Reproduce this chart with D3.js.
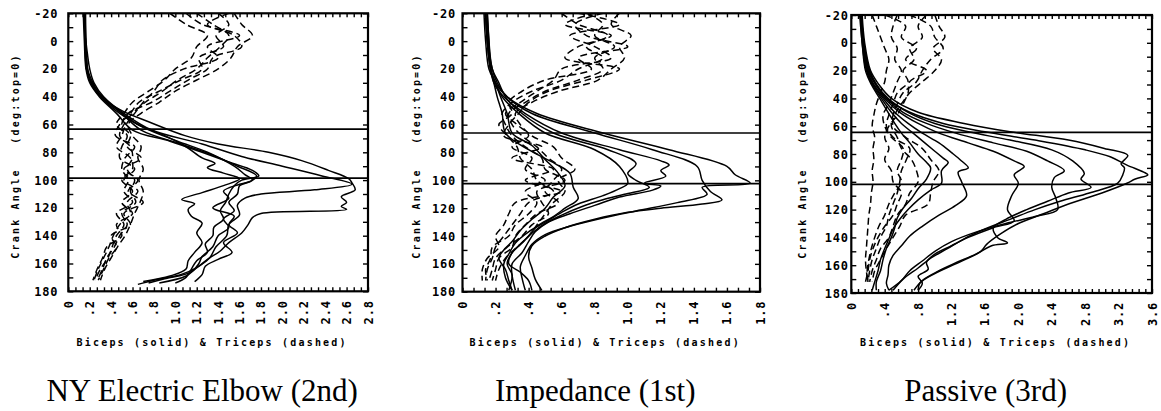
<!DOCTYPE html>
<html>
<head>
<meta charset="utf-8">
<script src="https://cdn.jsdelivr.net/npm/d3@7"></script>
<style>
  body { margin: 0; background: #fff; }
  .tick-label { font-family: "DejaVu Sans Mono", monospace; font-weight: bold; font-size: 12px; letter-spacing: 0.8px; }
  .axis-label { font-family: "DejaVu Sans Mono", monospace; font-weight: bold; font-size: 10px; letter-spacing: 2.2px; white-space: pre; }
  .panel-title { font-family: "Liberation Serif", "Times New Roman", serif; font-size: 31px; }
</style>
</head>
<body>
<svg id="chart" width="1161" height="411"></svg>
<script>
// ---- data: [EMG value, crank angle] ----
const titles = ["NY Electric Elbow (2nd)", "Impedance (1st)", "Passive (3rd)"];
const xTitle = "Biceps (solid) & Triceps (dashed)";
const yTitle = "Crank Angle   (deg:top=0)";

const angleLabels = ["-20", "0", "20", "40", "60", "80", "100", "120", "140", "160", "180"];
const elbowXLabels = ["0", ".2", ".4", ".6", ".8", "1.0", "1.2", "1.4", "1.6", "1.8", "2.0", "2.2", "2.4", "2.6", "2.8"];
const impedanceXLabels = ["0", ".2", ".4", ".6", ".8", "1.0", "1.2", "1.4", "1.6", "1.8"];
const passiveXLabels = ["0", ".4", ".8", "1.2", "1.6", "2.0", "2.4", "2.8", "3.2", "3.6"];

const elbowLines = [63.3, 98.6];
const impedanceLines = [66, 102.3];
const passiveLines = [64.4, 101.8];

// triceps traces are sampled at these angles
const tricepsAngles = [-20, -12, -4, 4, 12, 20, 28, 36, 44, 52, 60, 68, 76, 84, 92, 100, 108, 116, 124, 132, 140, 148, 156, 164, 172];

const elbowBiceps = [
  [[0.15,-20],[0.155,-10],[0.16,0],[0.17,10],[0.18,20],[0.21,30],[0.3,40],[0.5,50],[0.75,58],[1.09,68],[1.4,74],[1.87,80],[2.18,86],[2.43,93],[2.62,99],[2.65,102],[2.68,107],[2.55,112],[2.6,116],[2.55,119],[2.6,121],[1.8,124],[1.72,127],[1.68,132],[1.62,138],[1.5,145],[1.42,151],[1.3,157],[1.2,163],[1.05,168],[0.8,172],[0.65,175]],
  [[0.16,-20],[0.16,-10],[0.165,0],[0.18,10],[0.2,20],[0.24,30],[0.33,40],[0.52,52],[0.78,64],[1.25,74],[1.62,83],[2.0,90],[2.37,97],[2.65,103],[2.3,107],[1.8,110],[1.65,113],[1.58,118],[1.6,125],[1.5,132],[1.48,140],[1.38,148],[1.32,156],[1.2,163],[1.1,169],[0.85,174]],
  [[0.14,-20],[0.15,0],[0.165,20],[0.2,30],[0.29,40],[0.45,52],[0.6,64],[0.95,72],[1.25,80],[1.5,87],[1.72,93],[1.78,97],[1.62,100],[1.55,104],[1.5,110],[1.47,116],[1.42,122],[1.45,128],[1.36,134],[1.35,140],[1.28,146],[1.3,152],[1.2,158],[1.15,164],[1.1,170],[1.0,174]],
  [[0.15,-20],[0.16,0],[0.17,20],[0.22,30],[0.32,40],[0.5,52],[0.68,64],[1.05,74],[1.35,82],[1.58,90],[1.76,97],[1.7,101],[1.6,104],[1.58,110],[1.5,116],[1.55,122],[1.45,128],[1.5,134],[1.4,140],[1.35,148],[1.25,155],[1.22,160],[1.15,166],[0.9,171],[0.75,174]],
  [[0.16,-20],[0.165,0],[0.18,20],[0.23,30],[0.31,40],[0.5,52],[0.65,60],[0.9,68],[1.1,76],[1.25,84],[1.37,88],[1.3,91],[1.45,95],[1.6,99],[1.45,104],[1.25,109],[1.06,114],[1.18,117],[1.12,121],[1.15,126],[1.25,131],[1.2,138],[1.25,145],[1.18,152],[1.12,158],[1.1,164],[0.95,169],[0.7,173]],
  [[0.15,-20],[0.16,0],[0.17,20],[0.21,30],[0.3,40],[0.48,52],[0.7,62],[1.02,72],[1.3,80],[1.55,90],[1.65,96],[1.72,100],[1.6,103],[1.45,108],[1.5,113],[1.35,120],[1.55,126],[1.5,132],[1.58,138],[1.45,145],[1.53,152],[1.4,157],[1.28,162],[1.25,168],[1.18,173]]
];
const elbowTriceps = [
  [1.55,1.62,1.72,1.58,1.52,1.4,1.2,1.0,0.85,0.68,0.56,0.6,0.68,0.65,0.7,0.66,0.7,0.67,0.62,0.58,0.53,0.46,0.4,0.34,0.3],
  [1.2,1.35,1.5,1.42,1.3,1.2,1.02,0.88,0.72,0.6,0.52,0.48,0.58,0.6,0.55,0.62,0.58,0.63,0.5,0.55,0.48,0.43,0.36,0.32,0.27],
  [0.95,1.1,1.3,1.2,1.15,1.0,0.9,0.75,0.6,0.52,0.45,0.55,0.5,0.48,0.62,0.52,0.65,0.55,0.58,0.48,0.42,0.38,0.33,0.28,0.24],
  [1.4,1.5,1.38,1.45,1.22,1.25,1.05,0.85,0.66,0.58,0.48,0.44,0.62,0.53,0.5,0.56,0.52,0.6,0.45,0.52,0.45,0.41,0.37,0.3,0.25],
  [1.1,1.25,1.6,1.3,1.4,1.08,0.88,0.8,0.7,0.62,0.54,0.5,0.45,0.58,0.6,0.5,0.6,0.5,0.6,0.45,0.5,0.36,0.32,0.27,0.23],
  [1.5,1.3,1.55,1.62,1.35,1.3,1.12,0.95,0.78,0.56,0.5,0.58,0.55,0.68,0.52,0.65,0.56,0.7,0.52,0.58,0.4,0.45,0.38,0.33,0.28]
];

const impedanceBiceps = [
  [[0.14,-20],[0.15,0],[0.17,20],[0.2,30],[0.27,40],[0.45,52],[0.85,66],[1.25,78],[1.6,90],[1.65,96],[1.74,102],[1.45,105],[1.48,110],[1.3,116],[1.05,122],[0.85,127],[0.65,133],[0.5,139],[0.42,146],[0.38,154],[0.35,162],[0.36,170],[0.38,179]],
  [[0.15,-20],[0.155,0],[0.18,20],[0.21,30],[0.27,40],[0.42,52],[0.8,66],[1.15,78],[1.42,90],[1.45,100],[1.5,108],[1.57,114],[1.45,117],[1.2,120],[1.0,123],[0.8,128],[0.62,134],[0.5,140],[0.42,147],[0.4,155],[0.42,163],[0.44,171],[0.48,179]],
  [[0.14,-20],[0.15,0],[0.17,20],[0.19,30],[0.25,40],[0.38,52],[0.6,66],[0.95,78],[1.2,86],[1.25,89],[1.2,93],[1.23,97],[1.1,102],[1.2,104],[1.15,107],[0.95,112],[0.8,118],[0.65,124],[0.52,130],[0.44,137],[0.4,144],[0.36,152],[0.3,160],[0.3,168],[0.32,179]],
  [[0.15,-20],[0.16,0],[0.18,20],[0.22,30],[0.26,40],[0.36,52],[0.55,66],[0.88,78],[1.05,88],[1.0,95],[1.05,100],[1.13,105],[0.98,110],[0.85,114],[0.72,119],[0.6,125],[0.5,131],[0.42,138],[0.36,145],[0.3,152],[0.27,160],[0.3,168],[0.28,179]],
  [[0.13,-20],[0.14,0],[0.16,20],[0.2,30],[0.24,40],[0.34,52],[0.5,66],[0.8,78],[0.95,90],[1.0,102],[0.95,106],[0.85,111],[0.7,117],[0.6,123],[0.5,130],[0.4,137],[0.32,145],[0.28,153],[0.25,160],[0.26,170],[0.3,179]],
  [[0.15,-20],[0.16,0],[0.17,20],[0.19,30],[0.21,40],[0.24,52],[0.26,66],[0.4,78],[0.56,88],[0.65,95],[0.67,105],[0.7,113],[0.62,120],[0.55,126],[0.45,133],[0.4,140],[0.35,146],[0.3,152],[0.28,160],[0.35,166],[0.4,172],[0.42,179]],
  [[0.14,-20],[0.15,0],[0.17,20],[0.2,30],[0.23,40],[0.27,52],[0.3,66],[0.42,75],[0.5,85],[0.58,95],[0.62,104],[0.55,112],[0.5,120],[0.42,128],[0.35,136],[0.3,144],[0.25,150],[0.22,156],[0.26,164],[0.28,172],[0.3,179]]
];
const impedanceTriceps = [
  [0.95,0.9,1.02,0.95,0.98,0.9,0.82,0.58,0.42,0.32,0.35,0.42,0.55,0.6,0.68,0.58,0.62,0.55,0.5,0.45,0.4,0.33,0.26,0.22,0.2],
  [0.75,0.85,0.8,0.92,0.8,0.85,0.7,0.5,0.38,0.28,0.3,0.36,0.45,0.52,0.6,0.55,0.5,0.58,0.45,0.38,0.32,0.3,0.22,0.2,0.18],
  [0.6,0.7,0.88,0.75,0.85,0.7,0.6,0.42,0.3,0.24,0.26,0.3,0.38,0.48,0.5,0.62,0.45,0.48,0.52,0.42,0.36,0.27,0.2,0.18,0.16],
  [0.85,0.68,0.75,1.0,0.7,0.78,0.5,0.36,0.28,0.3,0.22,0.27,0.33,0.35,0.42,0.45,0.55,0.4,0.35,0.3,0.25,0.2,0.18,0.15,0.14],
  [0.7,0.95,0.65,0.8,0.9,0.6,0.55,0.45,0.35,0.26,0.33,0.4,0.3,0.42,0.38,0.5,0.38,0.45,0.4,0.32,0.28,0.18,0.17,0.14,0.15],
  [0.8,0.62,0.9,0.7,0.62,0.95,0.75,0.52,0.4,0.34,0.28,0.25,0.48,0.3,0.55,0.38,0.6,0.32,0.28,0.25,0.2,0.22,0.15,0.12,0.12]
];

const passiveBiceps = [
  [[0.12,-20],[0.15,0],[0.22,20],[0.3,30],[0.42,40],[0.7,50],[1.1,58],[1.6,64],[2.2,70],[2.8,77],[3.1,82],[3.3,88],[3.5,93],[3.55,95],[3.4,98],[3.3,101],[3.0,108],[2.6,116],[2.3,123],[2.0,130],[1.8,137],[1.62,145],[1.55,150],[1.3,157],[1.05,164],[0.85,171],[0.75,178]],
  [[0.13,-20],[0.16,0],[0.23,20],[0.33,30],[0.48,40],[0.8,50],[1.35,58],[1.9,64],[2.6,70],[3.03,76],[3.31,81],[3.23,87],[3.27,90],[3.25,95],[3.19,101],[2.85,108],[2.5,114],[2.2,120],[1.9,127],[1.6,134],[1.35,141],[1.15,148],[0.95,155],[0.8,162],[0.62,170],[0.5,178]],
  [[0.12,-20],[0.15,0],[0.21,20],[0.3,30],[0.44,40],[0.68,50],[1.0,58],[1.4,64],[1.9,70],[2.4,77],[2.65,85],[2.79,94],[2.75,98],[2.87,104],[2.6,108],[2.35,114],[2.1,120],[1.85,127],[1.7,133],[1.75,140],[1.87,144],[1.68,146],[1.5,152],[1.25,159],[1.0,166],[0.82,173],[0.8,178]],
  [[0.12,-20],[0.15,0],[0.2,20],[0.29,30],[0.42,40],[0.62,50],[0.9,58],[1.25,65],[1.7,72],[2.1,78],[2.35,85],[2.55,92],[2.43,97],[2.4,104],[2.45,112],[2.47,120],[2.2,125],[1.85,130],[1.5,136],[1.2,143],[1.0,150],[0.85,157],[0.7,164],[0.6,171],[0.45,178]],
  [[0.11,-20],[0.14,0],[0.19,20],[0.27,30],[0.4,40],[0.58,50],[0.8,58],[1.05,65],[1.4,72],[1.7,78],[1.95,85],[2.07,89],[1.95,95],[2.0,101],[1.92,110],[1.87,120],[1.95,128],[1.7,133],[1.4,140],[1.2,146],[1.0,152],[0.9,158],[0.92,163],[0.8,168],[0.85,173],[0.8,178]],
  [[0.12,-20],[0.14,0],[0.19,20],[0.26,30],[0.38,40],[0.52,50],[0.68,58],[0.85,65],[1.05,72],[1.2,79],[1.32,85],[1.4,90],[1.28,93],[1.32,100],[1.38,110],[1.25,117],[1.05,124],[0.85,132],[0.7,139],[0.6,146],[0.5,153],[0.45,160],[0.44,167],[0.42,173],[0.45,178]],
  [[0.11,-20],[0.13,0],[0.18,20],[0.25,30],[0.36,40],[0.48,50],[0.6,58],[0.74,65],[0.88,72],[1.0,78],[1.1,83],[1.16,86],[1.08,92],[1.08,101],[0.95,106],[0.8,113],[0.68,120],[0.58,127],[0.5,134],[0.45,141],[0.4,148],[0.35,156],[0.32,164],[0.28,172],[0.25,178]],
  [[0.1,-20],[0.13,0],[0.17,20],[0.24,30],[0.34,40],[0.44,50],[0.52,58],[0.6,65],[0.7,72],[0.8,80],[0.9,86],[0.95,90],[0.9,98],[0.8,105],[0.72,112],[0.62,119],[0.55,126],[0.52,133],[0.48,140],[0.42,148],[0.38,156],[0.35,164],[0.3,172],[0.3,178]]
];
const passiveTriceps = [
  [0.25,0.3,0.35,0.4,0.45,0.42,0.4,0.35,0.3,0.27,0.25,0.28,0.26,0.27,0.25,0.26,0.24,0.23,0.21,0.2,0.19,0.18,0.17,0.18,0.2],
  [0.55,0.5,0.48,0.55,0.52,0.6,0.55,0.5,0.45,0.38,0.4,0.48,0.62,0.6,0.55,0.6,0.52,0.45,0.4,0.33,0.28,0.24,0.21,0.19,0.2],
  [0.9,0.8,0.85,0.7,0.75,0.62,0.68,0.55,0.5,0.45,0.42,0.5,0.7,0.66,0.6,0.58,0.55,0.5,0.45,0.42,0.35,0.3,0.25,0.22,0.2],
  [0.7,0.95,1.0,1.1,0.95,0.85,0.78,0.62,0.55,0.5,0.48,0.55,0.6,0.72,0.78,0.8,0.7,0.65,0.55,0.5,0.45,0.35,0.3,0.25,0.22],
  [1.0,1.05,1.12,0.98,1.08,1.0,0.85,0.7,0.6,0.52,0.5,0.65,0.85,0.95,1.05,0.98,0.95,0.92,0.65,0.58,0.5,0.42,0.35,0.28,0.25],
  [0.4,0.65,0.6,0.78,0.65,0.9,0.7,0.68,0.62,0.55,0.45,0.4,0.45,0.4,0.48,0.5,0.6,0.55,0.5,0.4,0.32,0.26,0.22,0.2,0.17]
];

// ---- layout ----
const panels = [
  { biceps: elbowBiceps, triceps: elbowTriceps, lines: elbowLines, xLabels: elbowXLabels, sub: 3,
    left: 68.3, right: 368, top: 13.3, bottom: 291.3, tickGap: 10, titleGap: 53 },
  { biceps: impedanceBiceps, triceps: impedanceTriceps, lines: impedanceLines, xLabels: impedanceXLabels, sub: 3,
    left: 462.5, right: 760, top: 13.3, bottom: 291.7, tickGap: 6.5, titleGap: 47 },
  { biceps: passiveBiceps, triceps: passiveTriceps, lines: passiveLines, xLabels: passiveXLabels, sub: 5,
    left: 851.3, right: 1152, top: 15, bottom: 293, tickGap: 2.5, titleGap: 49 }
];

const svg = d3.select("#chart");

panels.forEach((p, i) => {
  const xValues = p.xLabels.map(Number);
  const xMax = xValues[xValues.length - 1];
  const x = d3.scaleLinear().domain([0, xMax]).range([p.left, p.right]);
  const y = d3.scaleLinear().domain([-20, 180]).range([p.top, p.bottom]);
  const g = svg.append("g");

  svg.append("clipPath").attr("id", "clip" + i)
    .append("rect")
    .attr("x", p.left).attr("y", p.top)
    .attr("width", p.right - p.left).attr("height", p.bottom - p.top);

  const plot = g.append("g").attr("clip-path", `url(#clip${i})`);

  const line = d3.line()
    .x(d => x(d[0]))
    .y(d => y(d[1]))
    .curve(d3.curveCatmullRom.alpha(0.5));

  plot.selectAll(".triceps")
    .data(p.triceps)
    .enter()
    .append("path")
    .attr("class", "triceps")
    .attr("d", v => line(v.map((val, k) => [val, tricepsAngles[k]])))
    .attr("fill", "none")
    .attr("stroke", "#000")
    .attr("stroke-width", 1.5)
    .attr("stroke-dasharray", "7,4");

  plot.selectAll(".biceps")
    .data(p.biceps)
    .enter()
    .append("path")
    .attr("class", "biceps")
    .attr("d", line)
    .attr("fill", "none")
    .attr("stroke", "#000")
    .attr("stroke-width", 1.5);

  g.selectAll(".ref")
    .data(p.lines)
    .enter()
    .append("line")
    .attr("x1", p.left).attr("x2", p.right)
    .attr("y1", d => y(d)).attr("y2", d => y(d))
    .attr("stroke", "#000")
    .attr("stroke-width", 1.7);

  // inward ticks on all four sides
  const step = (xValues[1] - xValues[0]) / p.sub;
  const xMinor = d3.range(0, xMax + step / 2, step);
  const yMinor = d3.range(-20, 181, 10);

  const axes = [
    g.append("g").attr("transform", `translate(0,${p.bottom})`).call(d3.axisTop(x).tickValues(xMinor).tickSize(4).tickFormat("")),
    g.append("g").attr("transform", `translate(0,${p.top})`).call(d3.axisBottom(x).tickValues(xMinor).tickSize(4).tickFormat("")),
    g.append("g").attr("transform", `translate(${p.left},0)`).call(d3.axisRight(y).tickValues(yMinor).tickSize(5).tickFormat("")),
    g.append("g").attr("transform", `translate(${p.right},0)`).call(d3.axisLeft(y).tickValues(yMinor).tickSize(5).tickFormat(""))
  ];
  axes.forEach(a => {
    a.select(".domain").remove();
    a.selectAll("line").attr("stroke", "#000").attr("stroke-width", 1.4);
  });

  g.append("rect")
    .attr("x", p.left).attr("y", p.top)
    .attr("width", p.right - p.left).attr("height", p.bottom - p.top)
    .attr("fill", "none")
    .attr("stroke", "#000")
    .attr("stroke-width", 2.2);

  // tick labels
  g.selectAll(".ylab")
    .data(angleLabels)
    .enter()
    .append("text")
    .attr("class", "tick-label")
    .attr("x", p.left - p.tickGap)
    .attr("y", d => y(+d) + 4.5)
    .attr("text-anchor", "end")
    .text(d => d);

  g.selectAll(".xlab")
    .data(p.xLabels)
    .enter()
    .append("text")
    .attr("class", "tick-label")
    .attr("transform", d => `translate(${x(+d) + 4.5},${p.bottom + 9}) rotate(-90)`)
    .attr("text-anchor", "end")
    .text(d => d);

  // axis titles
  const mid = (p.left + p.right) / 2;
  g.append("text")
    .attr("class", "axis-label")
    .attr("x", mid - 6)
    .attr("y", 346)
    .attr("text-anchor", "middle")
    .text(xTitle);

  g.append("text")
    .attr("class", "axis-label")
    .attr("transform", `translate(${p.left - p.titleGap + 4},156) rotate(-90)`)
    .attr("text-anchor", "middle")
    .text(yTitle);

  g.append("text")
    .attr("class", "panel-title")
    .attr("x", mid - 16)
    .attr("y", 401)
    .attr("text-anchor", "middle")
    .text(titles[i]);
});
</script>
</body>
</html>
